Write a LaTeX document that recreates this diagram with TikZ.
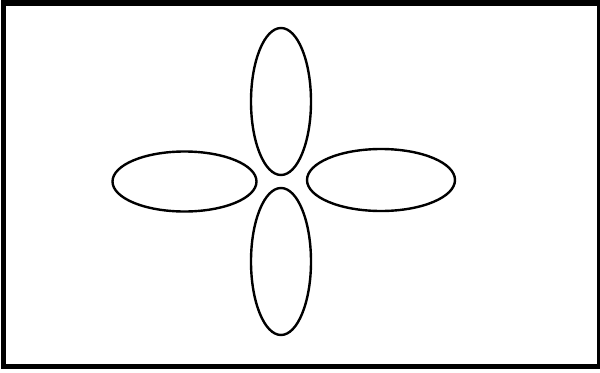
\documentclass[tikz,border=0pt]{standalone}
\usepackage{tikz}

\begin{document}
\begin{tikzpicture}[x=0.75pt, y=-0.75pt,
    frame/.style={draw, line width=4pt},
    petal/.style={draw, line width=1.8pt}
]
    \useasboundingbox (0,0) rectangle (600,372);
    % Frame
    \draw[frame] (3.5,3) rectangle (599.5,366.5);

    % Petals
    \draw[petal] (281,101.5) ellipse [x radius=30, y radius=73.5];
    \draw[petal] (281,261.5) ellipse [x radius=30, y radius=73.5];
    \draw[petal] (184.5,181.5) ellipse [x radius=72, y radius=30];
    \draw[petal] (381,180) ellipse [x radius=74, y radius=31];
\end{tikzpicture}
\end{document}
